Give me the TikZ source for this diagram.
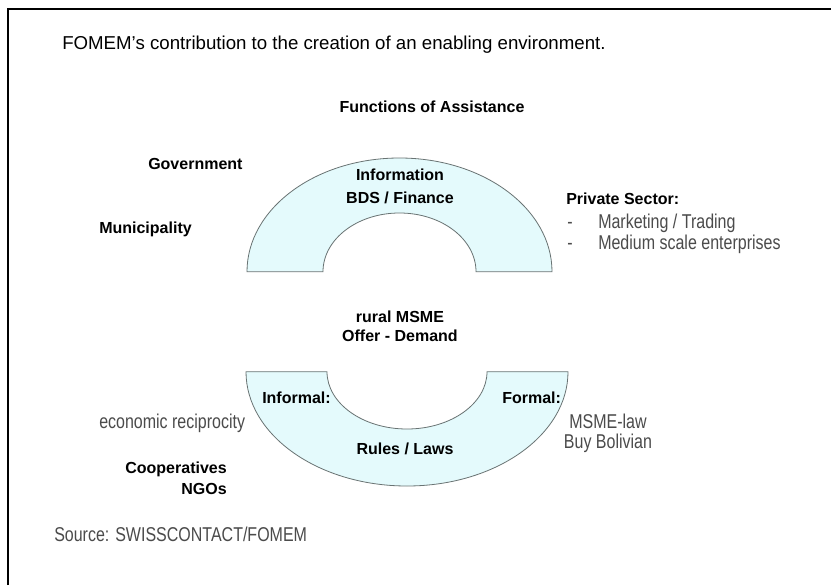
\documentclass[tikz,border=0pt]{standalone}
\usepackage{fontspec}
\setmainfont{Liberation Sans}
\usetikzlibrary{calc}
\definecolor{archfill}{RGB}{228,250,252}
\definecolor{archline}{RGB}{105,115,115}
\definecolor{softtext}{RGB}{75,75,75}

\begin{document}
\begin{tikzpicture}[x=0.75pt,y=0.75pt,
  boldlbl/.style={inner sep=0pt, font=\fontsize{12}{14}\selectfont\bfseries},
  plainlbl/.style={inner sep=0pt, font=\fontsize{12}{14}\selectfont, text=softtext,
                   yscale=1.25, transform shape},
  archband/.style={fill=archfill, draw=archline, line width=0.6pt}]

\useasboundingbox (0,-585) rectangle (831,0);
\fill[white] (0,-585) rectangle (831,0);

% frame: left and top edges only
\draw[line width=1.6pt] (8,-585) -- (8,-9) -- (831,-9);

% upper half-ring (functions of assistance)
\coordinate (topc) at (399.5,-271.7);
\draw[archband] ($(topc)+(-152.5,0)$)
  arc[start angle=180, end angle=0, x radius=152.5, y radius=113.7]
  -- ($(topc)+(76.5,0)$)
  arc[start angle=0, end angle=180, x radius=76.5, y radius=58.7]
  -- cycle;

% lower half-ring (rules / laws)
\coordinate (botc) at (407,-371.7);
\draw[archband] ($(botc)+(-161,0)$)
  arc[start angle=180, end angle=360, x radius=161, y radius=114.3]
  -- ($(botc)+(80,0)$)
  arc[start angle=0, end angle=-180, x radius=80, y radius=57.3]
  -- cycle;

% title
\node[anchor=base west, inner sep=0pt, font=\fontsize{14}{16}\selectfont] (title) at (62,-50)
  {FOMEM’s contribution to the creation of an enabling environment.};

\node[boldlbl, anchor=base] (functions) at (432,-113) {Functions of Assistance};
\node[boldlbl, anchor=base west] (gov) at (148,-169) {Government};
\node[boldlbl, anchor=base west] (muni) at (99,-233) {Municipality};

\node[boldlbl, anchor=base] (info) at (400,-180) {Information};
\node[boldlbl, anchor=base] (bds) at (400,-203) {BDS / Finance};

\node[boldlbl, anchor=base west] (private) at (566,-204) {Private Sector:};
\node[plainlbl, anchor=base west] (dashA) at (567,-228) {-};
\node[plainlbl, anchor=base west] (market) at (598,-228) {Marketing / Trading};
\node[plainlbl, anchor=base west] (dashB) at (567,-249) {-};
\node[plainlbl, anchor=base west] (medium) at (598,-249) {Medium scale enterprises};

\node[boldlbl, anchor=base] (msme) at (400,-322) {rural MSME};
\node[boldlbl, anchor=base] (offer) at (400,-341) {Offer - Demand};

\node[boldlbl, anchor=base west] (informal) at (262,-403) {Informal:};
\node[boldlbl, anchor=base west] (formal) at (502,-403) {Formal:};
\node[boldlbl, anchor=base] (rules) at (405,-454) {Rules / Laws};

\node[plainlbl, anchor=base west] (recip) at (99,-428) {economic reciprocity};
\node[plainlbl, anchor=base] (msmelaw) at (608,-428) {MSME-law};
\node[plainlbl, anchor=base] (buybol) at (608,-448) {Buy Bolivian};

\node[boldlbl, anchor=base east] (coop) at (227,-473) {Cooperatives};
\node[boldlbl, anchor=base east] (ngo) at (227,-494) {NGOs};

\node[plainlbl, anchor=base west] (source) at (54,-541) {Source: SWISSCONTACT/FOMEM};
\end{tikzpicture}
\end{document}
